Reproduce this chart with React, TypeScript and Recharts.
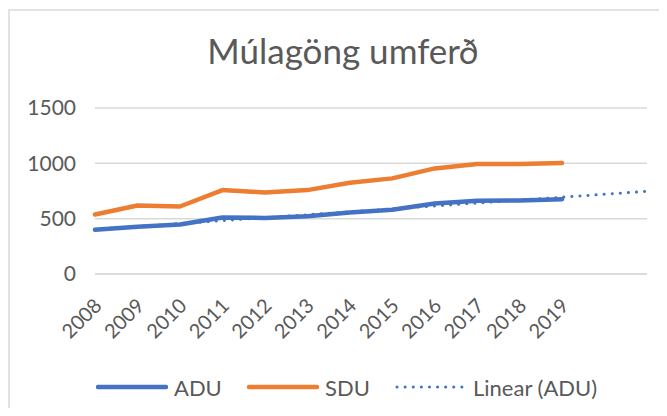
import React from 'react';
import { LineChart, Line, XAxis, YAxis, CartesianGrid } from 'recharts';

// Múlagöng traffic
const years = ['2008', '2009', '2010', '2011', '2012', '2013', '2014', '2015', '2016', '2017', '2018', '2019'];
const forecastSlots = ['', ''];
const adu = [400, 426, 447, 510, 507, 522, 556, 580, 637, 661, 664, 676];
const sdu = [538, 619, 610, 758, 737, 758, 824, 864, 954, 994, 994, 1003];
// linear trend of ADU: start value (2008) and end value (two periods past 2019)
const trendEnds = [403, 747];
const yTicks = [0, 500, 1000, 1500];

const labels = [...years, ...forecastSlots];
const data = labels.map((label, i) => ({
  label,
  adu: i < adu.length ? adu[i] : null,
  sdu: i < sdu.length ? sdu[i] : null,
  trend: i === 0 ? trendEnds[0] : i === labels.length - 1 ? trendEnds[1] : null,
}));

const FONT = 'Lato, "Open Sans", sans-serif';
const GREY = '#595959';
const BLUE = '#4472C4';
const ORANGE = '#ED7D31';

const YearTick = (props: any) => {
  const { x, y, payload } = props;
  const ax = x + 8;
  const ay = y + 25;
  return (
    <text
      x={ax}
      y={ay}
      transform={`rotate(-45, ${ax}, ${ay})`}
      textAnchor="end"
      fill={GREY}
      fontSize={20}
      fontFamily={FONT}
    >
      {payload.value}
    </text>
  );
};

const legendItems = [
  { name: 'ADU', color: BLUE, left: 88, dotted: false },
  { name: 'SDU', color: ORANGE, left: 239, dotted: false },
  { name: 'Linear (ADU)', color: BLUE, left: 387, dotted: true },
];

export default function App() {
  return (
    <div style={{ position: 'relative', width: 651, height: 400, overflow: 'hidden', fontFamily: FONT }}>
      <div
        style={{
          position: 'absolute',
          left: 0,
          top: 1,
          width: 700,
          height: 500,
          border: '2px solid #e2e2e2',
          boxSizing: 'border-box',
        }}
      />
      <div
        style={{
          position: 'absolute',
          left: 335,
          top: 26,
          transform: 'translateX(-50%)',
          fontSize: 35,
          lineHeight: '32px',
          color: GREY,
          whiteSpace: 'nowrap',
        }}
      >
        Múlagöng umferð
      </div>
      <LineChart
        width={651}
        height={400}
        data={data}
        margin={{ top: 100, right: 12, left: 0, bottom: 74 }}
        style={{ position: 'absolute', left: 0, top: 0 }}
      >
        <CartesianGrid vertical={false} stroke="#d9d9d9" strokeWidth={1.5} />
        <XAxis
          dataKey="label"
          interval={0}
          tickLine={false}
          axisLine={{ stroke: '#d9d9d9', strokeWidth: 1.5 }}
          height={60}
          tick={<YearTick />}
        />
        <YAxis
          width={87}
          domain={[0, 1500]}
          ticks={yTicks}
          tickLine={false}
          axisLine={false}
          tickMargin={13}
          tick={{ fill: GREY, fontSize: 21, fontFamily: FONT }}
        />
        <Line
          dataKey="adu"
          stroke={BLUE}
          strokeWidth={4.5}
          strokeLinecap="round"
          strokeLinejoin="round"
          dot={false}
          activeDot={false}
          isAnimationActive={false}
        />
        <Line
          dataKey="sdu"
          stroke={ORANGE}
          strokeWidth={4.5}
          strokeLinecap="round"
          strokeLinejoin="round"
          dot={false}
          activeDot={false}
          isAnimationActive={false}
        />
        <Line
          dataKey="trend"
          stroke={BLUE}
          strokeWidth={3}
          strokeDasharray="0.1 8"
          strokeLinecap="round"
          connectNulls
          dot={false}
          activeDot={false}
          isAnimationActive={false}
        />
      </LineChart>
      {legendItems.map((item) => (
        <div
          key={item.name}
          style={{
            position: 'absolute',
            left: item.left,
            top: 366,
            height: 26,
            display: 'flex',
            alignItems: 'center',
            fontSize: 22,
            color: GREY,
            whiteSpace: 'nowrap',
          }}
        >
          <svg width={72} height={8}>
            <line
              x1={2}
              y1={4}
              x2={70}
              y2={4}
              stroke={item.color}
              strokeWidth={item.dotted ? 3 : 4.5}
              strokeLinecap="round"
              strokeDasharray={item.dotted ? '0.1 8' : undefined}
            />
          </svg>
          <span style={{ marginLeft: 6 }}>{item.name}</span>
        </div>
      ))}
    </div>
  );
}
